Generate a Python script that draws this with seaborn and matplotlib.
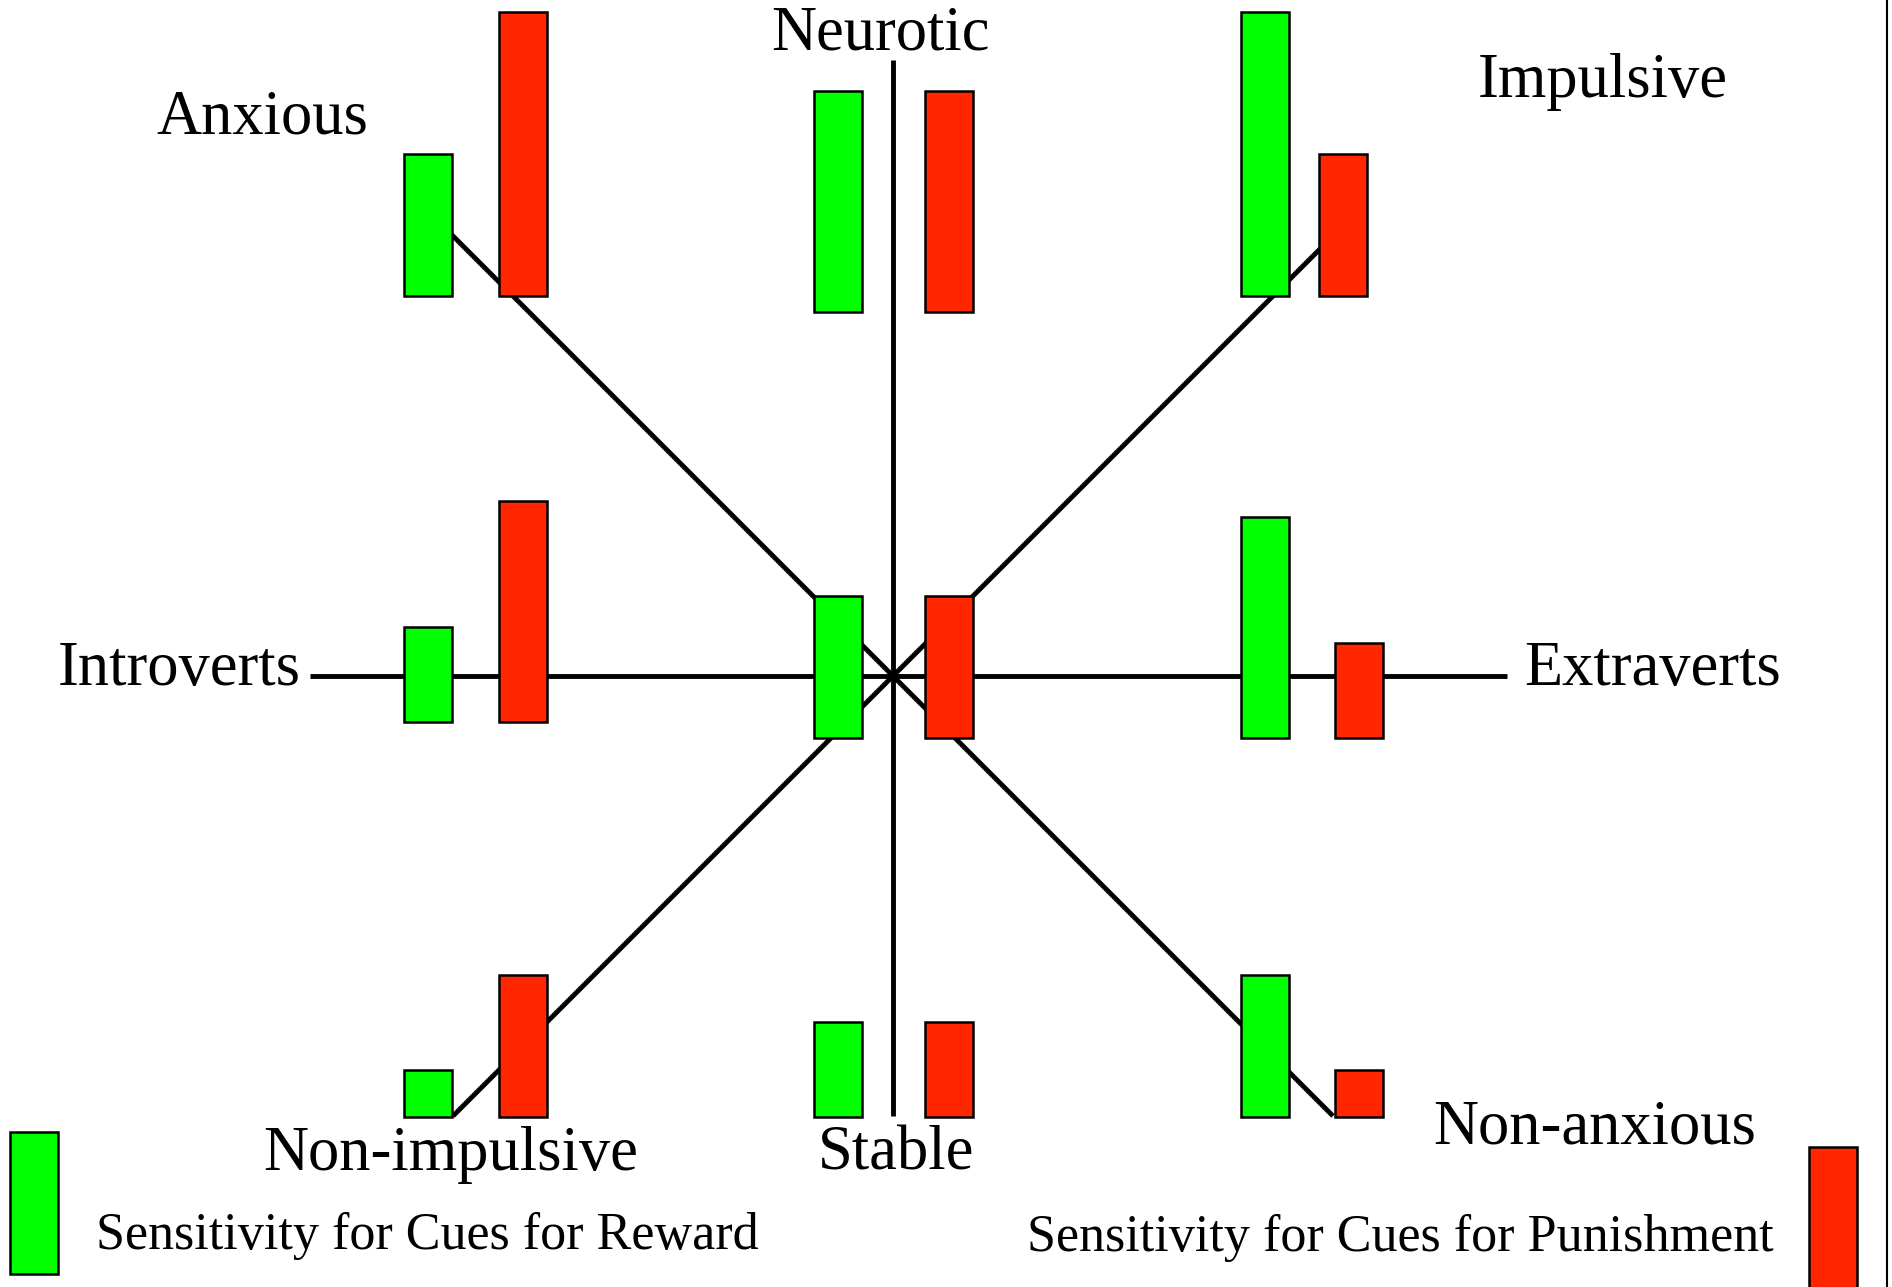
import matplotlib
matplotlib.use("Agg")
import matplotlib.pyplot as plt
import seaborn as sns
import pandas as pd

# ---------------- data ----------------
groups = ["Anxious", "Neurotic", "Impulsive",
          "Introverts", "Centre", "Extraverts",
          "Non-impulsive", "Stable", "Non-anxious"]
reward_sensitivity = [3, 4.67, 6, 2, 3, 4.67, 1, 2, 3]
punishment_sensitivity = [6, 4.67, 3, 4.67, 3, 2, 3, 2, 1]
axis_labels = ["Anxious", "Neurotic", "Impulsive", "Introverts", "Extraverts",
               "Non-impulsive", "Stable", "Non-anxious"]
legend_labels = ["Sensitivity for Cues for Reward",
                 "Sensitivity for Cues for Punishment"]
legend_value = 3

# ---------------- layout (pixel space) ----------------
W, H = 1892, 1287
unit = 47.3
bar_w = 48
cx, cy = 893, 676
green_x = [428, 838, 1264.5, 428, 838, 1264.5, 428, 838, 1264.5]
red_x = [523, 949, 1343, 523, 949, 1359, 523, 949, 1359]
base_y = [296, 312, 296, 722, 738, 738, 1117, 1117, 1117]
label_pos = {
    "Anxious": (262, 133), "Neurotic": (880, 50), "Impulsive": (1603, 97),
    "Introverts": (179, 685), "Extraverts": (1653, 685),
    "Non-impulsive": (451, 1170), "Stable": (896, 1170), "Non-anxious": (1595, 1143),
}
legend_text_pos = [(427, 1249), (1400, 1251)]
legend_bar = [(33.5, 1274), (1832.5, 1289)]

GREEN = "#00ff00"
RED = "#ff2600"

sns.set_style("white")
plt.rcParams["font.family"] = ["Liberation Serif", "DejaVu Serif"]

df = pd.DataFrame({"group": groups, "reward": reward_sensitivity,
                   "punishment": punishment_sensitivity,
                   "gx": green_x, "rx": red_x, "base": base_y})

fig = plt.figure(figsize=(W / 100, H / 100), dpi=100)
ax = fig.add_axes([0, 0, 1, 1])
ax.set_xlim(0, W)
ax.set_ylim(H, 0)
ax.axis("off")

line_kw = dict(color="black", linewidth=3.5, zorder=1, solid_capstyle="butt")
segments = [
    ([cx, cx], [60, 1116]),
    ([310, 1507], [cy, cy]),
    ([cx - 465, cx + 440], [cy - 465, cy + 440]),
    ([cx - 440, cx + 450], [cy + 440, cy - 450]),
]
for xs, ys in segments:
    ax.plot(xs, ys, **line_kw)

bar_kw = dict(width=bar_w, edgecolor="black", linewidth=1.8, zorder=3)
ax.bar(df["gx"], -df["reward"] * unit, bottom=df["base"], color=GREEN, **bar_kw)
ax.bar(df["rx"], -df["punishment"] * unit, bottom=df["base"], color=RED, **bar_kw)

# legend bars
ax.bar([legend_bar[0][0]], [-legend_value * unit], bottom=[legend_bar[0][1]],
       color=GREEN, **bar_kw)
ax.bar([legend_bar[1][0]], [-legend_value * unit], bottom=[legend_bar[1][1]],
       color=RED, **bar_kw)

for lab in axis_labels:
    x, y = label_pos[lab]
    ax.text(x, y, lab, fontsize=45, ha="center", va="baseline", color="black")
for lab, (x, y) in zip(legend_labels, legend_text_pos):
    ax.text(x, y, lab, fontsize=37.5, ha="center", va="baseline", color="black")

# right frame edge
ax.plot([1887, 1887], [0, H], color="black", lw=1.5, zorder=1)

fig.savefig("out.png", dpi=100, facecolor="white")
